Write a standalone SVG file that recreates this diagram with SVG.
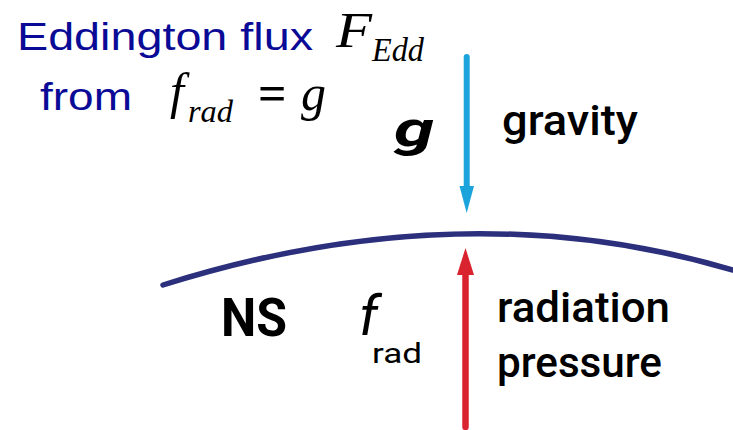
<svg xmlns="http://www.w3.org/2000/svg" width="733" height="430" viewBox="0 0 733 430">
<style>
.ttl{font-family:"Liberation Sans",Arial,sans-serif;font-size:38px;fill:#0a0a96}
.math{font-family:"Liberation Serif","Times New Roman",serif;font-style:italic;fill:#000}
.lab{font-family:Roboto,"Liberation Sans",sans-serif;font-weight:500;font-size:42px;fill:#000}
</style>
<rect width="733" height="430" fill="#fff"/>
<g id="title">
<text class="ttl" x="17" y="50" textLength="296" lengthAdjust="spacingAndGlyphs">Eddington flux</text>
<text class="math" x="336" y="47" font-size="50" textLength="36" lengthAdjust="spacingAndGlyphs">F</text>
<text class="math" x="372" y="61" font-size="33" textLength="52" lengthAdjust="spacingAndGlyphs">Edd</text>
<text class="ttl" x="40" y="110" textLength="92" lengthAdjust="spacingAndGlyphs">from</text>
<text class="math" x="170" y="108" font-size="50">f</text>
<text class="math" x="188" y="122" font-size="32" textLength="45" lengthAdjust="spacingAndGlyphs">rad</text>
<text x="258" y="110" font-family="Liberation Serif,serif" font-weight="700" font-size="50">=</text>
<text class="math" x="301" y="110" font-size="50">g</text>
</g>
<g id="surface">
<path d="M163,285 Q462,190.5 733,270" fill="none" stroke="#2b2f7c" stroke-width="5.5" stroke-linecap="round"/>
</g>
<g id="ns">
<text x="221" y="336" font-family="Roboto,sans-serif" font-weight="700" font-size="53" textLength="66" lengthAdjust="spacingAndGlyphs">NS</text>
</g>
<g id="gravity">
<text x="394" y="146" font-family="Roboto,sans-serif" font-weight="700" font-style="italic" font-size="50" textLength="40" lengthAdjust="spacingAndGlyphs">g</text>
<text class="lab" x="502" y="135" textLength="136" lengthAdjust="spacingAndGlyphs">gravity</text>
</g>
<g id="radiation">
<text x="359" y="335" font-family="Roboto,sans-serif" font-weight="400" font-style="italic" font-size="56">f</text>
<text x="372" y="363" font-family="Roboto,sans-serif" font-weight="400" font-size="28" textLength="50" lengthAdjust="spacingAndGlyphs">rad</text>
<text class="lab" x="497" y="322" textLength="173" lengthAdjust="spacingAndGlyphs">radiation</text>
<text class="lab" x="497" y="377" textLength="165" lengthAdjust="spacingAndGlyphs">pressure</text>
</g>
<g id="connectors">
<line x1="466.7" y1="57" x2="466.7" y2="190" stroke="#1ba3dc" stroke-width="6" stroke-linecap="round"/>
<polygon points="459.5,186 474,186 466.7,213" fill="#1ba3dc"/>
<line x1="465.5" y1="427" x2="465.5" y2="272" stroke="#d9232e" stroke-width="6.5" stroke-linecap="round"/>
<polygon points="457,275 474,275 465.5,248" fill="#d9232e"/>
</g>
</svg>
